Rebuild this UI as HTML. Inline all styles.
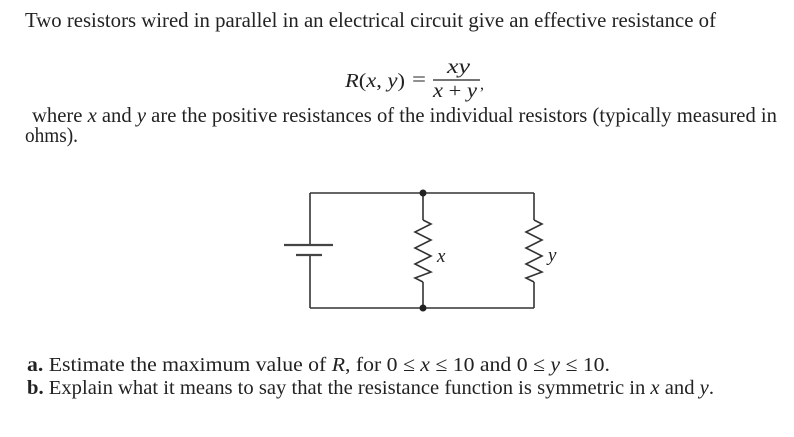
<!DOCTYPE html>
<html>
<head>
<meta charset="utf-8">
<style>
  html,body{margin:0;padding:0;background:#fff;}
  body{width:794px;height:437px;overflow:hidden;}
  svg{display:block;}
  .t{font-family:"Liberation Serif",serif;fill:#222;}
  .m{font-family:"Liberation Serif",serif;fill:#222;}
</style>
</head>
<body>
<svg width="794" height="437" viewBox="0 0 794 437" xmlns="http://www.w3.org/2000/svg">
  <rect width="794" height="437" fill="#fff"/>

  <!-- Paragraph text -->
  <text class="t" x="25" y="27" font-size="21.5" textLength="691" lengthAdjust="spacingAndGlyphs">Two resistors wired in parallel in an electrical circuit give an effective resistance of</text>

  <!-- Equation -->
  <text class="m" x="345" y="87" font-size="20" textLength="60" lengthAdjust="spacingAndGlyphs"><tspan font-style="italic">R</tspan>(<tspan font-style="italic">x</tspan>, <tspan font-style="italic">y</tspan>)</text>
  <text class="m" x="412" y="86" font-size="20" textLength="14" lengthAdjust="spacingAndGlyphs">=</text>
  <line x1="433" y1="80" x2="480" y2="80" stroke="#222" stroke-width="1.3"/>
  <text class="m" x="447" y="73" font-size="20" font-style="italic" textLength="23" lengthAdjust="spacingAndGlyphs">xy</text>
  <text class="m" x="433" y="97" font-size="20" textLength="44" lengthAdjust="spacingAndGlyphs"><tspan font-style="italic">x</tspan> + <tspan font-style="italic">y</tspan></text>
  <text class="m" x="480" y="89" font-size="16">,</text>

  <text class="t" x="32" y="122" font-size="21.5" textLength="745" lengthAdjust="spacingAndGlyphs">where <tspan font-style="italic">x</tspan> and <tspan font-style="italic">y</tspan> are the positive resistances of the individual resistors (typically measured in</text>
  <text class="t" x="25" y="142" font-size="21.5" textLength="53" lengthAdjust="spacingAndGlyphs">ohms).</text>

  <!-- Circuit -->
  <g stroke="#333" stroke-width="1.6" fill="none" stroke-linejoin="miter">
    <line x1="310" y1="193" x2="534" y2="193"/>
    <line x1="310" y1="308" x2="534" y2="308"/>
    <line x1="310" y1="193" x2="310" y2="245"/>
    <line x1="310" y1="255" x2="310" y2="308"/>
    <line x1="423" y1="193" x2="423" y2="220"/>
    <polyline points="423,220 431,224 415,232 431,240 415,248 431,256 415,264 431,272 415,278 423,282"/>
    <line x1="423" y1="282" x2="423" y2="308"/>
    <line x1="534" y1="193" x2="534" y2="220"/>
    <polyline points="534,220 542,224 526,232 542,240 526,248 542,256 526,264 542,272 526,278 534,282"/>
    <line x1="534" y1="282" x2="534" y2="308"/>
  </g>
  <line x1="284" y1="245" x2="333" y2="245" stroke="#444" stroke-width="2.2"/>
  <line x1="296" y1="255" x2="322" y2="255" stroke="#444" stroke-width="2.2"/>
  <circle cx="423" cy="193" r="3.5" fill="#222"/>
  <circle cx="423" cy="308" r="3.5" fill="#222"/>
  <text class="t" x="437" y="262" font-size="19" font-style="italic" fill="#555">x</text>
  <text class="t" x="548" y="261" font-size="19" font-style="italic" fill="#555">y</text>

  <!-- Questions -->
  <text class="t" x="27" y="371" font-size="20.5" textLength="583" lengthAdjust="spacingAndGlyphs"><tspan font-weight="bold">a.</tspan> Estimate the maximum value of <tspan font-style="italic">R</tspan>, for 0 ≤ <tspan font-style="italic">x</tspan> ≤ 10 and 0 ≤ <tspan font-style="italic">y</tspan> ≤ 10.</text>
  <text class="t" x="27" y="394" font-size="20.5" textLength="687" lengthAdjust="spacingAndGlyphs"><tspan font-weight="bold">b.</tspan> Explain what it means to say that the resistance function is symmetric in <tspan font-style="italic">x</tspan> and <tspan font-style="italic">y</tspan>.</text>
</svg>
</body>
</html>
